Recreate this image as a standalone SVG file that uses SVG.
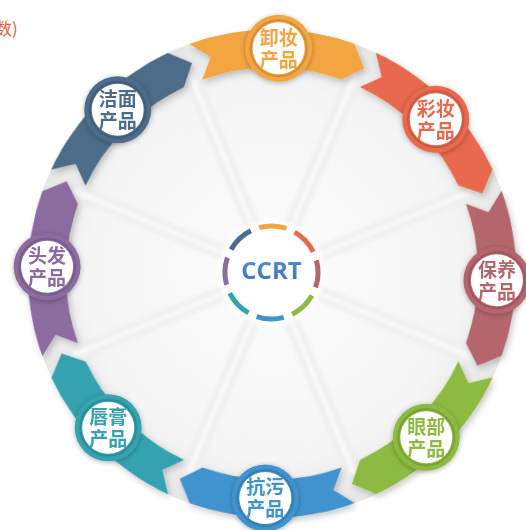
<svg xmlns="http://www.w3.org/2000/svg" xmlns:xlink="http://www.w3.org/1999/xlink" width="526" height="530" viewBox="0 0 526 530">
<defs>
<radialGradient id="bg" cx="272" cy="273.5" r="246" gradientUnits="userSpaceOnUse">
<stop offset="0" stop-color="#fdfdfd"/>
<stop offset="0.75" stop-color="#f5f5f5"/>
<stop offset="1" stop-color="#e6e6e6"/>
</radialGradient>
<linearGradient id="ccrtg" x1="0" y1="0" x2="0" y2="1">
<stop offset="0" stop-color="#5b93d6"/>
<stop offset="1" stop-color="#3d6fb6"/>
</linearGradient>
<filter id="sh" x="-20%" y="-20%" width="140%" height="140%">
<feDropShadow dx="2" dy="3" stdDeviation="3" flood-color="#000" flood-opacity="0.22"/>
</filter>
<filter id="bsh" x="-30%" y="-30%" width="160%" height="160%">
<feDropShadow dx="0" dy="1" stdDeviation="2.5" flood-color="#000" flood-opacity="0.3"/>
</filter>
<filter id="blur" x="-10%" y="-10%" width="120%" height="120%">
<feGaussianBlur stdDeviation="2"/>
</filter>
<path id="rib" d="M182.6,46.5 A244,244 0 0 1 347.4,41.4 L358.1,65.6 L335.7,77.6 A206,206 0 0 0 196.5,81.8 L204.3,58.9 Z"/>
<g id="spoke">
<rect x="265" y="58" width="14" height="170" fill="#ececec"/>
<rect x="270" y="58" width="4" height="170" fill="#ffffff"/>
</g>
<path id="seg" d="M257.9,228 A46.5,46.5 0 0 1 285.1,228"/>
</defs>
<style>
.lbl{font-family:"Noto Sans CJK SC","Noto Sans",sans-serif;font-size:19px;font-weight:bold;text-anchor:middle}
.ring{fill:none;stroke-width:5}
.inner{fill:#ffffff}
.edge{fill:none;stroke:#000;stroke-opacity:0.14;stroke-width:2}
</style>
<rect width="526" height="530" fill="#ffffff"/>
<text x="-5" y="35" font-family="Noto Sans CJK SC, sans-serif" font-size="17" fill="#e8603c">数)</text>
<g id="background">
<circle cx="272" cy="273.5" r="244" fill="url(#bg)"/>
<g filter="url(#blur)">
<use xlink:href="#spoke" transform="rotate(22.7 272 273.5)"/>
<use xlink:href="#spoke" transform="rotate(67.7 272 273.5)"/>
<use xlink:href="#spoke" transform="rotate(112.7 272 273.5)"/>
<use xlink:href="#spoke" transform="rotate(157.7 272 273.5)"/>
<use xlink:href="#spoke" transform="rotate(202.7 272 273.5)"/>
<use xlink:href="#spoke" transform="rotate(247.7 272 273.5)"/>
<use xlink:href="#spoke" transform="rotate(292.7 272 273.5)"/>
<use xlink:href="#spoke" transform="rotate(337.7 272 273.5)"/>
</g>
</g>
<g id="connectors" filter="url(#sh)">
<use xlink:href="#rib" fill="#f2a541" transform="rotate(1.7 272 273.5)"/>
<use xlink:href="#rib" fill="#e8694d" transform="rotate(46.7 272 273.5)"/>
<use xlink:href="#rib" fill="#b5666d" transform="rotate(91.7 272 273.5)"/>
<use xlink:href="#rib" fill="#8dba3f" transform="rotate(136.7 272 273.5)"/>
<use xlink:href="#rib" fill="#3f93cf" transform="rotate(181.7 272 273.5)"/>
<use xlink:href="#rib" fill="#36a2b0" transform="rotate(226.7 272 273.5)"/>
<use xlink:href="#rib" fill="#8c6c9f" transform="rotate(271.7 272 273.5)"/>
<use xlink:href="#rib" fill="#4d6c8a" transform="rotate(316.7 272 273.5)"/>
</g>
<g id="node-xiezhuang" transform="translate(278.7 48.3)" fill="#f2a541">
<circle r="33.5" filter="url(#bsh)"/><circle r="28" class="edge"/><circle r="26" class="inner"/>
<text class="lbl"><tspan x="0" y="-3.6">卸妆</tspan><tspan x="0" y="18.4">产品</tspan></text>
</g>
<g id="node-caizhuang" transform="translate(435.8 119.2)" fill="#e8694d">
<circle r="33.5" filter="url(#bsh)"/><circle r="28" class="edge"/><circle r="26" class="inner"/>
<text class="lbl"><tspan x="0" y="-3.6">彩妆</tspan><tspan x="0" y="18.4">产品</tspan></text>
</g>
<g id="node-baoyang" transform="translate(496.9 280.2)" fill="#b5666d">
<circle r="33.5" filter="url(#bsh)"/><circle r="28" class="edge"/><circle r="26" class="inner"/>
<text class="lbl"><tspan x="0" y="-3.6">保养</tspan><tspan x="0" y="18.4">产品</tspan></text>
</g>
<g id="node-yanbu" transform="translate(426.3 437.3)" fill="#8dba3f">
<circle r="33.5" filter="url(#bsh)"/><circle r="28" class="edge"/><circle r="26" class="inner"/>
<text class="lbl"><tspan x="0" y="-3.6">眼部</tspan><tspan x="0" y="18.4">产品</tspan></text>
</g>
<g id="node-kangwu" transform="translate(265.3 498)" fill="#3f93cf">
<circle r="33.5" filter="url(#bsh)"/><circle r="28" class="edge"/><circle r="26" class="inner"/>
<text class="lbl"><tspan x="0" y="-3.6">抗污</tspan><tspan x="0" y="18.4">产品</tspan></text>
</g>
<g id="node-chungao" transform="translate(108.2 427.8)" fill="#36a2b0">
<circle r="33.5" filter="url(#bsh)"/><circle r="28" class="edge"/><circle r="26" class="inner"/>
<text class="lbl"><tspan x="0" y="-3.6">唇膏</tspan><tspan x="0" y="18.4">产品</tspan></text>
</g>
<g id="node-toufa" transform="translate(47.1 266.8)" fill="#8c6c9f">
<circle r="33.5" filter="url(#bsh)"/><circle r="28" class="edge"/><circle r="26" class="inner"/>
<text class="lbl"><tspan x="0" y="-3.6">头发</tspan><tspan x="0" y="18.4">产品</tspan></text>
</g>
<g id="node-jiemian" transform="translate(117.7 109.7)" fill="#4d6c8a">
<circle r="33.5" filter="url(#bsh)"/><circle r="28" class="edge"/><circle r="26" class="inner"/>
<text class="lbl"><tspan x="0" y="-3.6">洁面</tspan><tspan x="0" y="18.4">产品</tspan></text>
</g>
<g id="node-ccrt">
<circle cx="271.5" cy="272.5" r="53" fill="#ffffff" filter="url(#blur)"/>
<use xlink:href="#seg" class="ring" stroke="#f2a541" transform="rotate(1.7 271.5 272.5)"/>
<use xlink:href="#seg" class="ring" stroke="#e8694d" transform="rotate(46.7 271.5 272.5)"/>
<use xlink:href="#seg" class="ring" stroke="#b5666d" transform="rotate(91.7 271.5 272.5)"/>
<use xlink:href="#seg" class="ring" stroke="#8dba3f" transform="rotate(136.7 271.5 272.5)"/>
<use xlink:href="#seg" class="ring" stroke="#3f93cf" transform="rotate(181.7 271.5 272.5)"/>
<use xlink:href="#seg" class="ring" stroke="#36a2b0" transform="rotate(226.7 271.5 272.5)"/>
<use xlink:href="#seg" class="ring" stroke="#8c6c9f" transform="rotate(271.7 271.5 272.5)"/>
<use xlink:href="#seg" class="ring" stroke="#4d6c8a" transform="rotate(316.7 271.5 272.5)"/>
<text x="271.5" y="278.5" font-family="Open Sans, Liberation Sans, sans-serif" font-size="24" font-weight="bold" text-anchor="middle" fill="url(#ccrtg)">CCRT</text>
</g>
</svg>
